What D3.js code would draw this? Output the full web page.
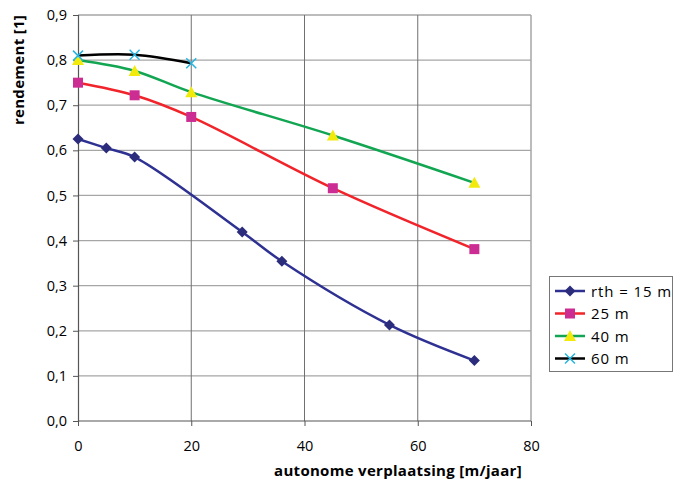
<!DOCTYPE html>
<html><head><meta charset="utf-8">
<script src="https://cdn.jsdelivr.net/npm/d3@7"></script>
<style>body{margin:0;background:#fff}svg{display:block}text{font-family:"Open Sans","Noto Sans",sans-serif;fill:#000}</style>
</head><body><svg id="c" width="675" height="483"></svg>
<script>
const xTicks=[0,20,40,60,80];
const yTicks=[0,0.1,0.2,0.3,0.4,0.5,0.6,0.7,0.8,0.9];
const seriesNames=["rth = 15 m","25 m","40 m","60 m"];
const x15=[0,5,10,29,36,55,70];
const y15=[0.625,0.605,0.585,0.419,0.354,0.213,0.134];
const x25=[0,10,20,45,70];
const y25=[0.750,0.722,0.674,0.516,0.381];
const x40=[0,10,20,45,70];
const y40=[0.800,0.776,0.729,0.633,0.528];
const x60=[0,10,20];
const y60=[0.810,0.812,0.793];

const series=[
 {name:seriesNames[0],xs:x15,ys:y15,line:"#2e3192",mark:"diamond",fill:"#2b2c7c"},
 {name:seriesNames[1],xs:x25,ys:y25,line:"#f0242a",mark:"square",fill:"#cc2d92"},
 {name:seriesNames[2],xs:x40,ys:y40,line:"#12a552",mark:"triangle",fill:"#f2ea0c"},
 {name:seriesNames[3],xs:x60,ys:y60,line:"#000000",mark:"x",fill:"#27b5e0"}
];
const svg=d3.select("#c");
const L=78,R=531,T=15,B=421;
const x=d3.scaleLinear().domain([0,80]).range([L,R]);
const y=d3.scaleLinear().domain([0,0.9]).range([B,T]);
const fmt=d=>d3.format(".1f")(d).replace(".",",");

// horizontal grid
svg.append("g").selectAll("line").data(yTicks.slice(1)).join("line")
 .attr("x1",L).attr("x2",R).attr("y1",d=>y(d)).attr("y2",d=>y(d))
 .attr("stroke","#a6a6a6").attr("stroke-width",1.3);
// vertical grid
svg.append("g").selectAll("line").data(xTicks.slice(1,-1)).join("line")
 .attr("x1",d=>x(d)).attr("x2",d=>x(d)).attr("y1",T).attr("y2",B)
 .attr("stroke","#707070").attr("stroke-width",1);
// right border
svg.append("line").attr("x1",R).attr("x2",R).attr("y1",T).attr("y2",B).attr("stroke","#a6a6a6").attr("stroke-width",1.5);

// axes
const ya=svg.append("g").attr("transform",`translate(${L},0)`).call(d3.axisLeft(y).tickValues(yTicks).tickFormat(fmt).tickSize(5).tickPadding(6));
const xa=svg.append("g").attr("transform",`translate(0,${B})`).call(d3.axisBottom(x).tickValues(xTicks).tickFormat(d3.format("d")).tickSize(5).tickPadding(15));
[ya,xa].forEach(a=>{a.select(".domain").attr("stroke","#555").attr("stroke-width",1.2);
 a.selectAll(".tick line").attr("stroke","#555");
 a.selectAll("text").style("font-size","14.5px").style("font-family","'Open Sans','Noto Sans',sans-serif").attr("fill","#111");});
xa.select(".domain").attr("d",`M${L},0H${R}`);

// titles
svg.append("text").attr("x",398).attr("y",476).attr("text-anchor","middle")
 .style("font-size","15px").style("font-weight","bold").style("letter-spacing","0.3px").text("autonome verplaatsing [m/jaar]");
svg.append("text").attr("transform","translate(24,70) rotate(-90)").attr("text-anchor","middle")
 .style("font-size","15px").style("font-weight","bold").style("letter-spacing","0.3px").text("rendement [1]");

const line=d3.line().curve(d3.curveCatmullRom.alpha(0.5)).x(d=>x(d[0])).y(d=>y(d[1]));
function marker(g,type,fill,cx,cy,s){
 s=s||1;
 if(type==="diamond") g.append("path").attr("d",`M${cx},${cy-5.5*s}L${cx+5.5*s},${cy}L${cx},${cy+5.5*s}L${cx-5.5*s},${cy}Z`).attr("fill",fill);
 else if(type==="square") g.append("rect").attr("x",cx-5*s).attr("y",cy-5*s).attr("width",10*s).attr("height",10*s).attr("fill",fill);
 else if(type==="triangle") g.append("path").attr("d",`M${cx},${cy-6*s}L${cx+6*s},${cy+5*s}L${cx-6*s},${cy+5*s}Z`).attr("fill",fill);
 else g.append("path").attr("d",`M${cx-5*s},${cy-5*s}L${cx+5*s},${cy+5*s}M${cx+5*s},${cy-5*s}L${cx-5*s},${cy+5*s}`).attr("stroke",fill).attr("stroke-width",1.5).attr("fill","none");
}
series.forEach(s=>{
 const pts=s.xs.map((v,i)=>[v,s.ys[i]]);
 svg.append("path").datum(pts).attr("d",line).attr("fill","none").attr("stroke",s.line).attr("stroke-width",2.5);
});
series.forEach(s=>{
 const g=svg.append("g");
 s.xs.forEach((v,i)=>marker(g,s.mark,s.fill,x(v),y(s.ys[i])));
});

// legend
const lg=svg.append("g");
lg.append("rect").attr("x",549.5).attr("y",276.5).attr("width",123).attr("height",95).attr("fill","#fff").attr("stroke","#777").attr("stroke-width",1);
series.forEach((s,i)=>{
 const cy=291+i*22.5;
 lg.append("line").attr("x1",555).attr("x2",585).attr("y1",cy).attr("y2",cy).attr("stroke",s.line).attr("stroke-width",2.5);
 marker(lg,s.mark,s.fill,570,cy);
 lg.append("text").attr("x",591).attr("y",cy+5.5).style("font-size","15px").style("letter-spacing","0.9px").text(s.name);
});
</script></body></html>
